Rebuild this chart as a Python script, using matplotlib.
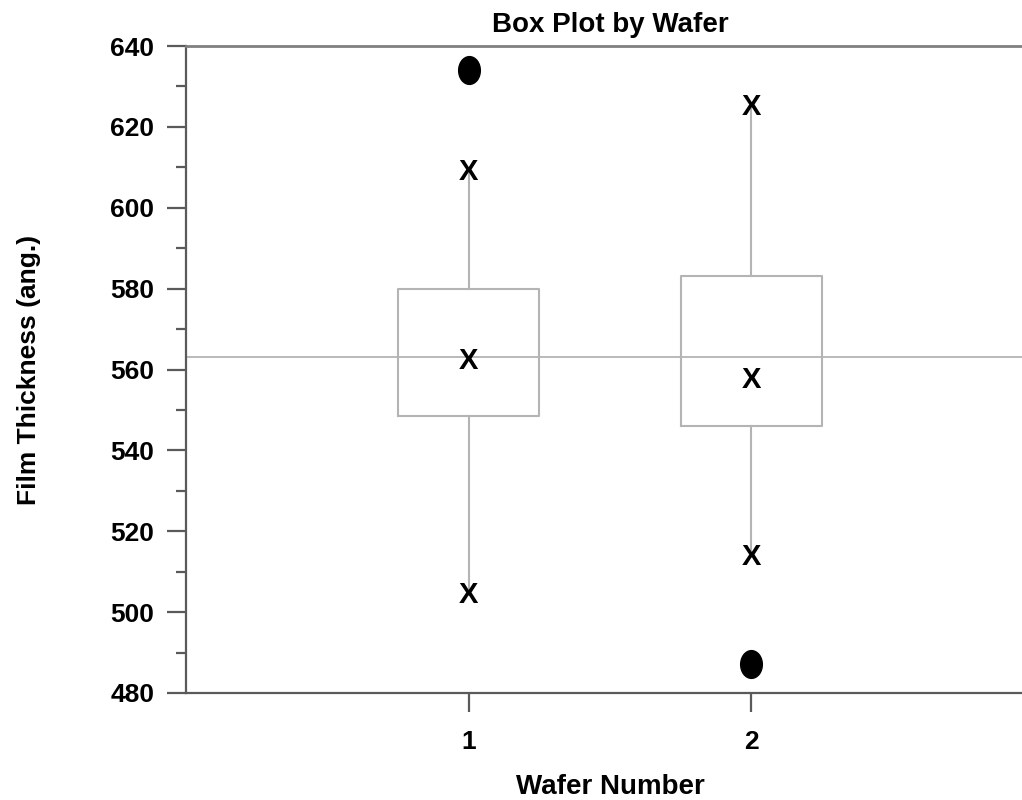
import numpy as np
import matplotlib
matplotlib.use("Agg")
import matplotlib.pyplot as plt
from matplotlib.path import Path
from matplotlib.transforms import Affine2D

plt.rcParams['font.family'] = ['Liberation Sans', 'DejaVu Sans']
plt.rcParams['font.weight'] = 'bold'

# data
wafers = [1, 2]
box_lo = [548.5, 546.0]
box_hi = [580.0, 583.2]
centre = [562.1, 557.4]
whisk_lo = [504.2, 513.6]
whisk_hi = [608.9, 624.9]
outliers = [634.0, 487.2]
ref_level = 563.2

y_ticks = [480, 500, 520, 540, 560, 580, 600, 620, 640]

fig = plt.figure(figsize=(10.22, 8.0), dpi=100)
ax = fig.add_axes([0.182, 0.13375, 1.0117 - 0.182, 0.9425 - 0.13375])

box_col = '#b4b4b4'
half = 0.25

# reference line across the whole plot
ax.axhline(ref_level, color=box_col, lw=1.3, zorder=1)

for i, w in enumerate(wafers):
    # box
    ax.plot([w - half, w + half, w + half, w - half, w - half],
            [box_lo[i], box_lo[i], box_hi[i], box_hi[i], box_lo[i]],
            color=box_col, lw=1.5, zorder=2)
    # whiskers
    ax.plot([w, w], [box_hi[i], whisk_hi[i]], color=box_col, lw=1.5, zorder=2)
    ax.plot([w, w], [box_lo[i], whisk_lo[i]], color=box_col, lw=1.5, zorder=2)
    # X markers
    for v in (whisk_hi[i], centre[i], whisk_lo[i]):
        ax.text(w, v, 'X', ha='center', va='center', fontsize=21,
                fontweight='bold', color='black', zorder=4)

# elongated filled circles for outliers
ell = Path.unit_circle().transformed(Affine2D().scale(0.78, 1.0))
ax.plot(wafers, outliers, linestyle='none', marker=ell, markersize=20,
        color='black', zorder=5)

ax.set_xlim(0, 3)
ax.set_ylim(480, 640)
ax.set_xticks([1, 2])
ax.set_xticklabels(['1', '2'])
ax.set_yticks(y_ticks)
ax.set_yticks(np.arange(490, 640, 20), minor=True)

spine_col = '#5a5a5a'
for s in ['left', 'bottom', 'top']:
    ax.spines[s].set_color(spine_col)
    ax.spines[s].set_linewidth(1.6)
ax.spines['top'].set_color('#808080')
ax.spines['top'].set_linewidth(2.0)
ax.spines['right'].set_visible(False)

ax.tick_params(axis='both', which='major', direction='out', length=13.7,
               width=1.6, color=spine_col, labelsize=19)
ax.tick_params(axis='both', which='minor', direction='out', length=7.2,
               width=1.6, color=spine_col)
ax.tick_params(axis='y', which='major', pad=9)
ax.tick_params(axis='x', which='major', pad=13)
for lab in ax.get_xticklabels() + ax.get_yticklabels():
    lab.set_fontweight('bold')

ax.set_title('Box Plot by Wafer', fontsize=20, fontweight='bold', pad=10)
ax.set_xlabel('Wafer Number', fontsize=20, fontweight='bold', labelpad=14)
ax.set_ylabel('Film Thickness (ang.)', fontsize=19, fontweight='bold', labelpad=50)

fig.savefig('out.png', dpi=100)
